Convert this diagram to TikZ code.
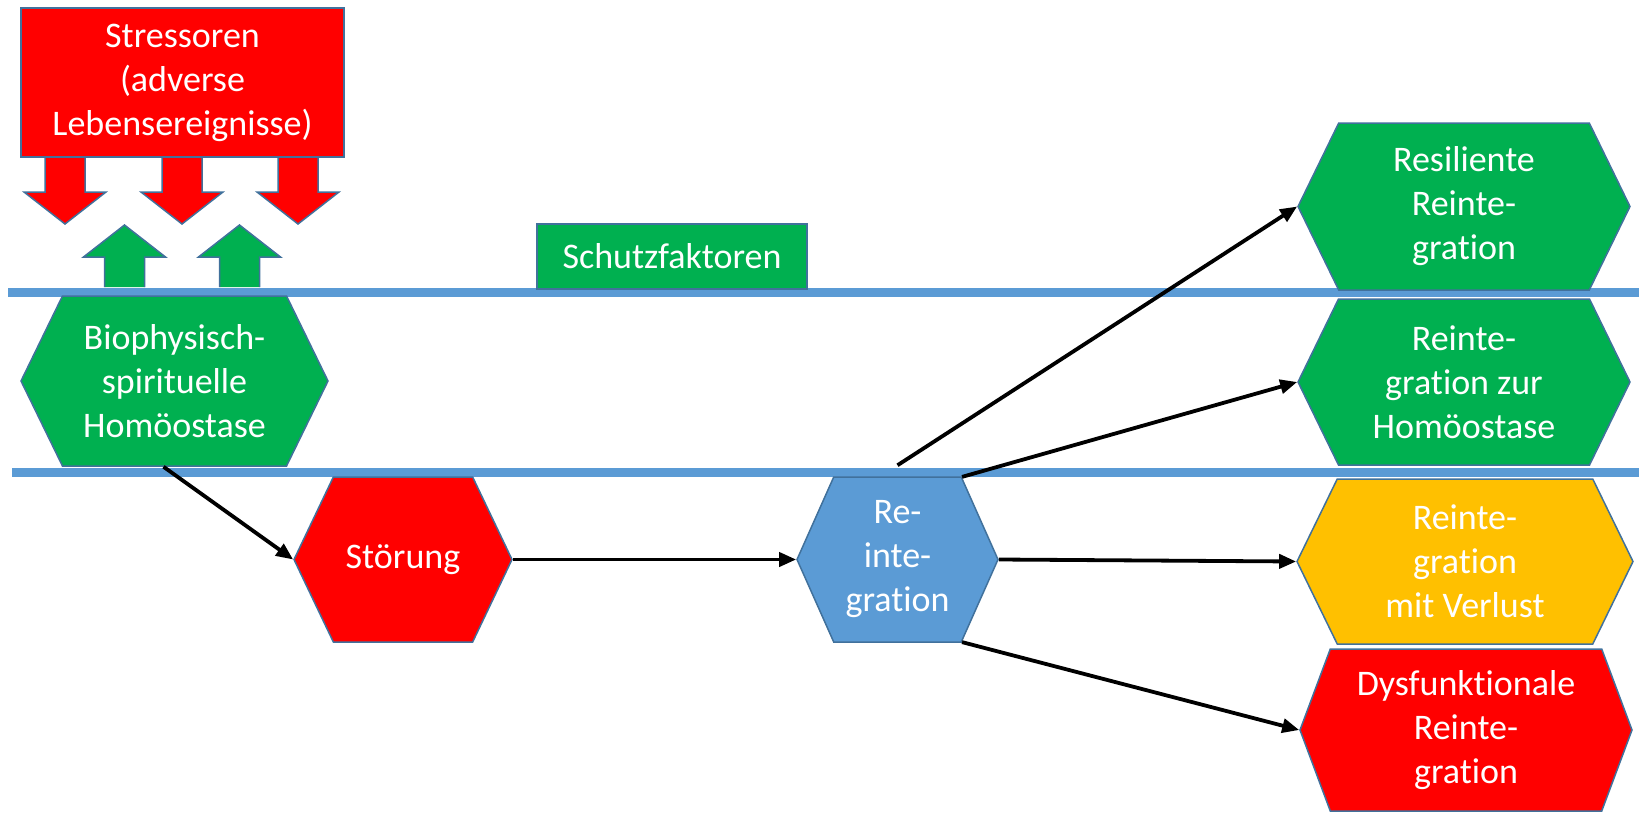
\documentclass[tikz,border=0pt]{standalone}
\usepackage{fontspec}
\setmainfont[Ligatures=CommonOff]{Carlito}
\usetikzlibrary{shapes.symbols,arrows.meta}
\definecolor{pptred}{HTML}{FF0000}
\definecolor{pptgreen}{HTML}{00B050}
\definecolor{pptyellow}{HTML}{FFC000}
\definecolor{pptblue}{HTML}{5B9BD5}
\definecolor{rim}{HTML}{41719C}

\begin{document}
\begin{tikzpicture}[x=1pt,y=-1pt]
        \tikzstyle{every node}+=[inner sep=0pt, text=white, align=center, font=\fontsize{36}{44}\selectfont]
        \tikzstyle{hexa}=[signal, signal to=east and west, draw=rim, line width=1.5pt, signal pointer angle=128]
        \tikzstyle{block}=[rectangle, draw=rim, line width=1.5pt]
        \tikzstyle{divider}=[draw=pptblue, line width=9pt]
        \tikzstyle{link}=[black, line width=3.8pt, -{Triangle[length=17pt,width=14pt]}]
        \useasboundingbox (0,0) rectangle (1639,814);
        % the two level lines
        \draw [divider] (8,292) -- (1639,292);
        \draw [divider] (12,472.5) -- (1639,472.5);
        % block arrows
        \foreach \c in {65,182,298}
            \filldraw [fill=pptred, draw=rim, line width=1.5pt] (\c-20,157) -- (\c-20,192) -- (\c-41,192) -- (\c,224) -- (\c+41,192) -- (\c+20,192) -- (\c+20,157);
        \foreach \c in {124.5,239.5}
            \filldraw [fill=pptgreen, draw=rim, line width=1.5pt] (\c-20,287) -- (\c-20,257) -- (\c-41,257) -- (\c,225) -- (\c+41,257) -- (\c+20,257) -- (\c+20,287);
        % nodes
        \node [block, fill=pptred, minimum width=323pt, minimum height=149pt] (stress) at (182.5,82.5) {Stressoren\\(adverse\\Lebensereignisse)};
        \node [block, fill=pptgreen, minimum width=270pt, minimum height=65pt] (schutz) at (672,256.5) {Schutzfaktoren};
        \node [hexa, fill=pptgreen, minimum width=307pt, minimum height=170pt] (bio) at (174.5,381) {Biophysisch-\\spirituelle\\Homöostase};
        \node [hexa, fill=pptred, minimum width=218pt, minimum height=165pt, signal pointer angle=129] (st) at (403,559.5) {Störung};
        \node [hexa, fill=pptblue, minimum width=201pt, minimum height=165pt, signal pointer angle=132] (ri) at (897.5,559.5) {Re-\\inte-\\gration};
        \node [hexa, fill=pptgreen, minimum width=332pt, minimum height=167pt] (h1) at (1464,206.5) {Resiliente\\Reinte-\\gration};
        \node [hexa, fill=pptgreen, minimum width=332pt, minimum height=166pt] (h2) at (1464,382) {Reinte-\\gration zur\\Homöostase};
        \node [hexa, fill=pptyellow, minimum width=336pt, minimum height=165pt] (h3) at (1465,561.5) {Reinte-\\gration\\mit Verlust};
        \node [hexa, fill=pptred, minimum width=332pt, minimum height=162pt, signal pointer angle=139] (h4) at (1466,730) {Dysfunktionale\\Reinte-\\gration};
        % connectors
        \draw [link] ([xshift=-11pt]bio.south) -- (st.west);
        \draw [link] (st.east) -- (ri.west);
        \draw [link] ([yshift=11pt]ri.north) -- (h1.west);
        \draw [link] (ri.52) -- (h2.west);
        \draw [link] (ri.east) -- (h3.west);
        \draw [link] (ri.-52) -- (h4.west);
\end{tikzpicture}
\end{document}
